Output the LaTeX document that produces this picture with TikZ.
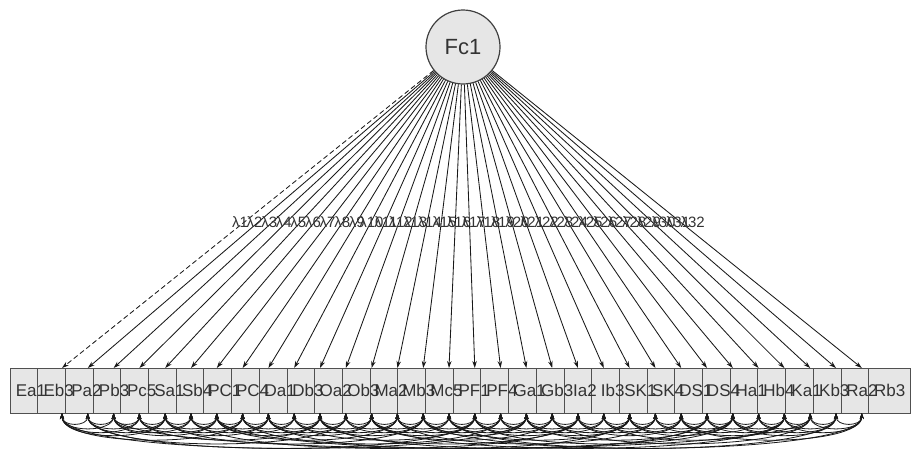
\documentclass[tikz,border=0pt]{standalone}
\usepackage{fontspec}
\setmainfont{Liberation Sans}
\usetikzlibrary{arrows.meta,calc}
\definecolor{boxfill}{HTML}{E6E6E6}
\definecolor{boxline}{HTML}{505050}
\definecolor{txt}{HTML}{333333}
\begin{document}
\begin{tikzpicture}[x=1pt,y=-1pt,
  load/.style={-{Stealth[length=7pt,width=4.5pt]}, line width=0.85pt, black!90},
  cov/.style={{Stealth[length=6pt,width=4pt]}-{Stealth[length=6pt,width=4pt]}, line width=0.8pt, black!90},
  obs/.style={draw=boxline, fill=boxfill, minimum width=42pt, minimum height=45pt, line width=1pt, inner sep=0pt},
  obstext/.style={font=\fontsize{17}{17}\selectfont, text=txt, inner sep=0pt},
  lat/.style={circle, draw=black!75, fill=boxfill, minimum size=74pt, line width=1.2pt, font=\fontsize{22}{22}\selectfont, text=txt},
  lam/.style={font=\fontsize{15}{15}\selectfont, text=txt, inner sep=0pt}]
\useasboundingbox (0,0) rectangle (912,450);
\node[lat] (fc) at (463,47) {Fc1};
% boxes
\foreach \k in {0,...,31} {
  \node[obs] (b\k) at ({31+27.7*\k},390.5) {};
  \coordinate (t\k) at ({62+25.8*\k},368);
  \coordinate (u\k) at ({62+25.8*\k},413);
}
% box labels drawn after all boxes
\foreach \n [count=\c from 0] in {Ea1,Eb3,Pa2,Pb3,Pc5,Sa1,Sb4,PC1,PC4,Da1,Db3,Oa2,Ob3,Ma2,Mb3,Mc5,PF1,PF4,Ga1,Gb3,Ia2,Ib3,SK1,SK4,DS1,DS4,Ha1,Hb4,Ka1,Kb3,Ra2,Rb3} {
  \node[obstext] (l\c) at (b\c.center) {\n};
}
% loadings
\draw[load, dashed, dash pattern=on 5pt off 3pt] (fc) -- (t0);
\foreach \k in {1,...,31} {
  \draw[load] (fc) -- (t\k);
}
% loading labels
\foreach \k in {0,...,31} {
  \pgfmathtruncatemacro\num{\k+1}
  \node[lam] (m\k) at ({240+14.6*\k},222) {λ\num};
}
% error covariances
\foreach \k in {0,...,30} {
  \pgfmathtruncatemacro\j{\k+1}
  \draw[cov] (u\k) .. controls +(0,14) and +(0,14) .. (u\j);
}
\foreach \k in {0,...,29} {
  \pgfmathtruncatemacro\j{\k+2}
  \draw[cov] (u\k) .. controls +(0,20) and +(0,20) .. (u\j);
}
\foreach \k in {0,...,28} {
  \pgfmathtruncatemacro\j{\k+3}
  \draw[cov] (u\k) .. controls +(0,25) and +(0,25) .. (u\j);
}
\foreach \k in {0,2,...,27} {
  \pgfmathtruncatemacro\j{\k+4}
  \draw[cov] (u\k) .. controls +(0,29) and +(0,29) .. (u\j);
}
\foreach \k in {0,3,...,24} {
  \pgfmathtruncatemacro\j{\k+7}
  \draw[cov] (u\k) .. controls +(0,35) and +(0,35) .. (u\j);
}
\foreach \k in {1,4,...,21} {
  \pgfmathtruncatemacro\j{\k+10}
  \draw[cov] (u\k) .. controls +(0,40) and +(0,40) .. (u\j);
}
\foreach \a/\b in {1/16,5/20,10/25,15/30,2/29,8/22,12/28,0/18,14/31,6/26} {
  \draw[cov] (u\a) .. controls +(0,46) and +(0,46) .. (u\b);
}
\end{tikzpicture}
\end{document}
